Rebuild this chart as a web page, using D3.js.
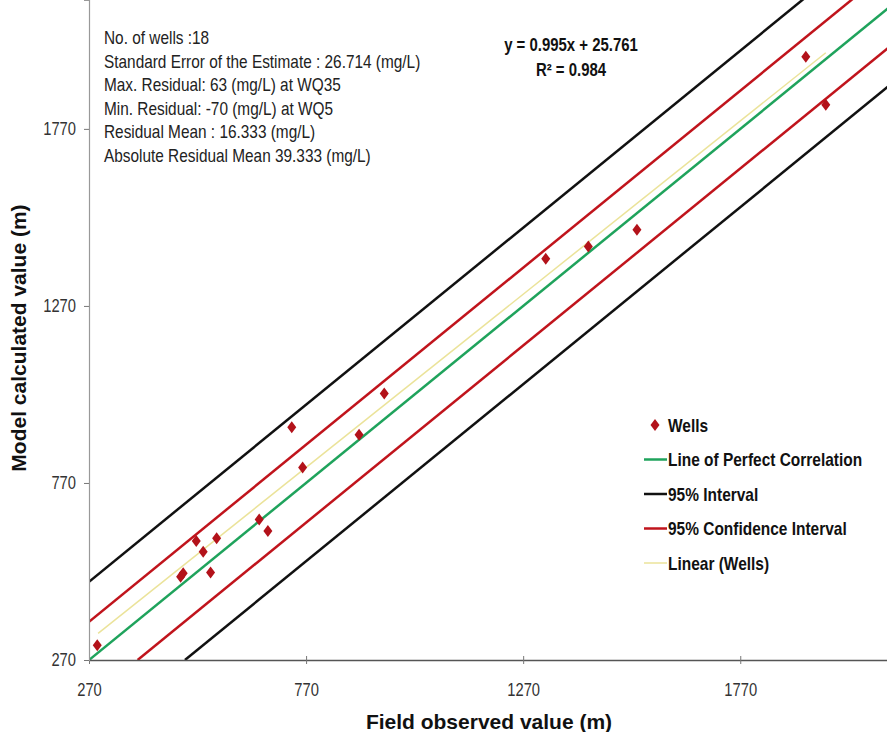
<!DOCTYPE html>
<html>
<head>
<meta charset="utf-8">
<script src="https://cdn.jsdelivr.net/npm/d3@7"></script>
<style>
  body { margin: 0; background: #fff; }
  text { font-family: "Liberation Sans", Arial, sans-serif; }
</style>
</head>
<body>
<svg id="chart" width="887" height="732"></svg>
<script>
// wells: field observed vs model calculated
const observed = [289, 481, 487, 517, 533, 550, 564, 662, 682, 737, 762, 892, 950, 1322, 1420, 1532, 1921, 1967]
const calculated = [312, 505, 515, 606, 576, 517, 614, 667, 634, 927, 814, 906, 1023, 1403, 1438, 1485, 1974, 1838]

const tickValues = [270, 770, 1270, 1770]

// line end points
const perfectLine = [[270, 270], [2140, 2140]]
const upper95 = [[270, 491], [1920, 2141]]
const lower95 = [[491, 270], [2110, 1889]]
const upperConf = [[270, 378], [2030, 2138]]
const lowerConf = [[382, 270], [2110, 1998]]
const linearWells = [[291, 345], [1967, 1985]]

const statLines = [
  'No. of wells :18',
  'Standard Error of the Estimate : 26.714 (mg/L)',
  'Max. Residual: 63 (mg/L) at WQ35',
  'Min. Residual: -70 (mg/L) at WQ5',
  'Residual Mean : 16.333 (mg/L)',
  'Absolute Residual Mean 39.333 (mg/L)'
]

const legendItems = [
  { label: 'Wells', type: 'marker', color: '#b3121a' },
  { label: 'Line of Perfect Correlation', type: 'line', color: '#1fa35c', width: 2.5 },
  { label: '95% Interval', type: 'line', color: '#111', width: 2.5 },
  { label: '95% Confidence Interval', type: 'line', color: '#c0141c', width: 2.5 },
  { label: 'Linear (Wells)', type: 'line', color: '#ebe39a', width: 1.5 }
]

const svg = d3.select('#chart')
const plotLeft = 89
const plotRight = 887
const plotTop = 0
const plotBottom = 660

const x = d3.scaleLinear().domain([270, 2108]).range([plotLeft, plotRight])
const y = d3.scaleLinear().domain([270, 2134]).range([plotBottom, plotTop])

svg.append('defs')
  .append('clipPath')
  .attr('id', 'plot-clip')
  .append('rect')
  .attr('x', plotLeft)
  .attr('y', plotTop)
  .attr('width', plotRight - plotLeft)
  .attr('height', plotBottom - plotTop)

const plot = svg.append('g').attr('clip-path', 'url(#plot-clip)')

const line = d3.line()
  .x(d => x(d[0]))
  .y(d => y(d[1]))

const drawLine = (pts, color, width) => {
  plot.append('path')
    .attr('d', line(pts))
    .attr('fill', 'none')
    .attr('stroke', color)
    .attr('stroke-width', width)
}

drawLine(upper95, '#111', 2.5)
drawLine(lower95, '#111', 2.5)
drawLine(upperConf, '#c0141c', 2.5)
drawLine(lowerConf, '#c0141c', 2.5)
drawLine(linearWells, '#ebe39a', 1.5)
drawLine(perfectLine, '#1fa35c', 2.5)

// the original uses a narrow face, so squeeze text horizontally
const squeeze = 0.82

// axes
const xAxis = d3.axisBottom(x).tickValues(tickValues).tickFormat(d3.format('d')).tickSize(0).tickPadding(23)
const yAxis = d3.axisLeft(y).tickValues(tickValues).tickFormat(d3.format('d')).tickSize(5).tickPadding(8)

const gx = svg.append('g')
  .attr('transform', `translate(0,${plotBottom})`)
  .call(xAxis)
gx.select('.domain').attr('stroke', '#555').attr('stroke-width', 1.5)
gx.selectAll('.tick line')
  .attr('y1', -4)
  .attr('y2', 4)
  .attr('stroke', '#777')
gx.selectAll('.tick text')
  .attr('font-size', 18)
  .attr('fill', '#333')
  .attr('transform', `scale(${squeeze},1)`)

const gy = svg.append('g')
  .attr('transform', `translate(${plotLeft},0)`)
  .call(yAxis)
gy.select('.domain').attr('stroke', '#999').attr('stroke-width', 1.2)
gy.selectAll('.tick line').attr('stroke', '#777')
gy.selectAll('.tick text')
  .attr('font-size', 18)
  .attr('fill', '#333')
  .attr('x', 0)
  .attr('transform', `translate(-13,0) scale(${squeeze},1)`)

// well markers
const diamond = 'M0,-6L4.5,0L0,6L-4.5,0Z'
svg.append('g')
  .selectAll('path')
  .data(observed)
  .join('path')
  .attr('d', diamond)
  .attr('transform', (d, i) => `translate(${x(d)},${y(calculated[i])})`)
  .attr('fill', '#b3121a')

// statistics text
svg.append('g')
  .selectAll('text')
  .data(statLines)
  .join('text')
  .attr('transform', (d, i) => `translate(104,${44 + i * 23.6}) scale(0.855,1)`)
  .attr('font-size', 18)
  .attr('fill', '#222')
  .text(d => d)

// regression equation
const eq = svg.append('g')
  .attr('text-anchor', 'middle')
  .attr('font-size', 18)
  .attr('font-weight', 'bold')
  .attr('fill', '#111')
eq.append('text')
  .attr('transform', 'translate(571,51) scale(0.83,1)')
  .text('y = 0.995x + 25.761')
eq.append('text')
  .attr('transform', 'translate(571,76) scale(0.83,1)')
  .text('R² = 0.984')

// legend
const legend = svg.append('g').attr('transform', 'translate(644,425)')
const rows = legend.selectAll('g')
  .data(legendItems)
  .join('g')
  .attr('transform', (d, i) => `translate(0,${i * 34.5})`)

rows.filter(d => d.type === 'marker')
  .append('path')
  .attr('d', diamond)
  .attr('transform', 'translate(11,0)')
  .attr('fill', d => d.color)

rows.filter(d => d.type === 'line')
  .append('line')
  .attr('x1', 0)
  .attr('x2', 23)
  .attr('stroke', d => d.color)
  .attr('stroke-width', d => d.width)

rows.append('text')
  .attr('transform', 'translate(24,6.5) scale(0.86,1)')
  .attr('font-size', 18)
  .attr('font-weight', 'bold')
  .attr('fill', '#111')
  .text(d => d.label)

// axis titles
svg.append('text')
  .attr('x', 489)
  .attr('y', 729)
  .attr('text-anchor', 'middle')
  .attr('font-size', 21)
  .attr('font-weight', 'bold')
  .attr('fill', '#111')
  .text('Field observed value (m)')

svg.append('text')
  .attr('transform', 'translate(26,338) rotate(-90)')
  .attr('text-anchor', 'middle')
  .attr('font-size', 21)
  .attr('font-weight', 'bold')
  .attr('fill', '#111')
  .text('Model calculated value (m)')
</script>
</body>
</html>
